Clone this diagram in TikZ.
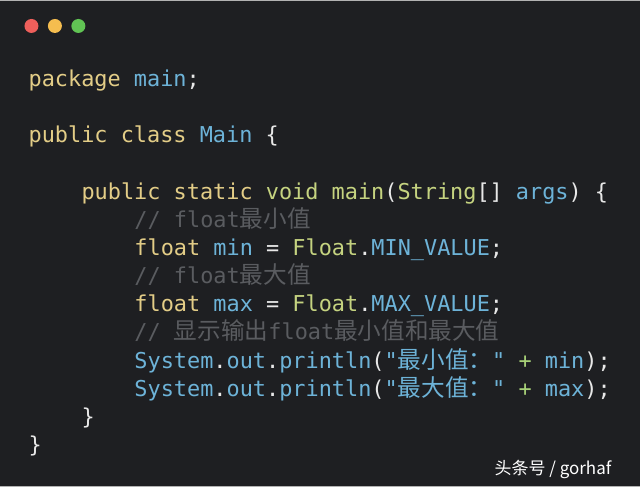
\documentclass[tikz,border=0pt]{standalone}
\usepackage{fontspec}
\setmonofont{DejaVu Sans Mono}
\setsansfont{Noto Sans CJK SC}
\newfontfamily\cjk[Scale=1.08]{Noto Sans CJK SC}
\newfontfamily\wm{Noto Sans CJK SC}
\definecolor{bg}{HTML}{1E1F22}
\definecolor{kw}{HTML}{E3CD87}
\definecolor{gy}{HTML}{C5D380}
\definecolor{bl}{HTML}{6DB3D8}
\definecolor{cm}{HTML}{5A5C60}
\definecolor{pu}{HTML}{E8E8E8}
\definecolor{pl}{HTML}{A8D178}
\newcommand{\K}[1]{\textcolor{kw}{#1}}
\newcommand{\G}[1]{\textcolor{gy}{#1}}
\newcommand{\B}[1]{\textcolor{bl}{#1}}
\newcommand{\C}[1]{{\cjk #1}}
\begin{document}
\begin{tikzpicture}[x=1pt,y=-1pt,
  code/.style={anchor=base west,inner sep=0pt,text=pu,font=\ttfamily\fontsize{21.9}{26}\selectfont},
  dot/.style={circle,minimum size=14pt,inner sep=0pt}]
\fill[bg] (0,0) rectangle (640,488);
\draw[gray!60,line width=1pt] (0,0.5) -- (640,0.5);
\draw[gray!60,line width=1pt] (0,487.5) -- (640,487.5);
\node[dot,fill={rgb,255:red,238;green,95;blue,91}] (d1) at (31,26) {};
\node[dot,fill={rgb,255:red,245;green,189;blue,79}] (d2) at (54.5,26) {};
\node[dot,fill={rgb,255:red,97;green,196;blue,84}] (d3) at (78,26) {};
\node[code] (l1) at (28,87) {\K{package} \B{main};};
\node[code] (l2) at (28,143) {\K{public} \K{class} \B{Main} \{};
\node[code] (l3) at (81,200) {\K{public} \K{static} \G{void} \G{main}(\G{String}[] \B{args}) \{};
\node[code,text=cm] (l4) at (134,228) {// float\C{最小值}};
\node[code] (l5) at (134,256) {\K{float} \B{min} = \G{Float}.\B{MIN\_VALUE};};
\node[code,text=cm] (l6) at (134,284) {// float\C{最大值}};
\node[code] (l7) at (134,312) {\K{float} \B{max} = \G{Float}.\B{MAX\_VALUE};};
\node[code,text=cm] (l8) at (134,340) {// \C{显示输出}float\C{最小值和最大值}};
\node[code] (l9) at (134,369) {\B{System}.\B{out}.\B{println}(\B{"\C{最小值：}"} \textcolor{pl}{+} \B{min});};
\node[code] (l10) at (134,397) {\B{System}.\B{out}.\B{println}(\B{"\C{最大值：}"} \textcolor{pl}{+} \B{max});};
\node[code] (l11) at (81,425) {\}};
\node[code] (l12) at (28,453) {\}};
\node[anchor=base east,inner sep=0pt,text=white,font=\wm\fontsize{17}{20}\selectfont] (wm) at (612,475) {头条号 / gorhaf};
\end{tikzpicture}
\end{document}
